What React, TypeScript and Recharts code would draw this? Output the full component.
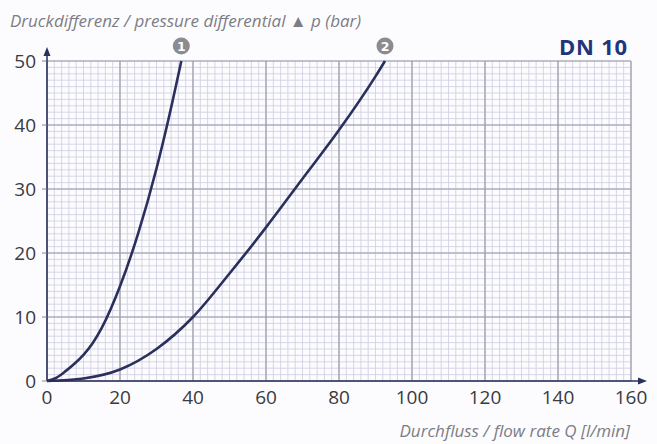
import { LineChart, Line, XAxis, YAxis, CartesianGrid, ReferenceDot } from "recharts"

// curve 1
const flow1 = [0, 2.5, 5, 7.5, 10, 12.5, 15, 20, 25, 30, 33.2, 36.8]
const dp1 = [0, 0.5, 1.5, 2.7, 4.1, 5.9, 8.3, 14.8, 23.1, 33.2, 40.7, 50]

// curve 2
const flow2 = [0, 10, 20, 30, 40, 50, 60, 70, 80, 90, 92.6]
const dp2 = [0, 0.4, 1.8, 5, 10, 16.8, 24, 31.6, 39.2, 47.6, 50]

const xTicks = [0, 20, 40, 60, 80, 100, 120, 140, 160]
const yTicks = [0, 10, 20, 30, 40, 50]
const X_MAX = 160
const Y_MAX = 50
const xMinor = Array.from({ length: 81 }, (_, i) => i * 2)
const yMinor = Array.from({ length: 51 }, (_, i) => i)

const curve1 = flow1.map((q, i) => ({ q, dp: dp1[i] }))
const curve2 = flow2.map((q, i) => ({ q, dp: dp2[i] }))

const NAVY = "#2a2f5c"
const tickStyle = { fill: "#3a3a40", fontSize: 19, fontFamily: "Open Sans" }

const Badge = (label: string) => (props: any) => (
    <g>
        <circle cx={props.cx} cy={props.cy - 15} r={8.5} fill="#8c8c90" />
        <text x={props.cx} y={props.cy - 10.5} textAnchor="middle" fill="#fff"
            fontSize={12.5} fontWeight="bold" fontFamily="DejaVu Sans">{label}</text>
    </g>
)

// minor grid: same linear mapping as the axes, from the plot offset
const minorX = ({ xAxis, offset }: any) =>
    xMinor.map((v) => (typeof xAxis?.scale === "function" ? xAxis.scale(v) : offset.left + (v / X_MAX) * offset.width))
const minorY = ({ yAxis, offset }: any) =>
    yMinor.map((v) => (typeof yAxis?.scale === "function" ? yAxis.scale(v) : offset.top + (1 - v / Y_MAX) * offset.height))

export default function App() {
    return (
        <div style={{ position: "absolute", left: 0, top: 0, width: 657, height: 444, background: "#fcfcfe", fontFamily: "Open Sans" }}>
            <div style={{ position: "absolute", left: 10, top: 9, fontSize: 17, fontStyle: "italic", color: "#7d7d85", whiteSpace: "nowrap" }}>
                Druckdifferenz / pressure differential ▲ p (bar)
            </div>
            <div style={{ position: "absolute", right: 29, top: 31, fontSize: 22, letterSpacing: 0.8, fontWeight: "bold", color: "#22357a" }}>
                DN 10
            </div>
            <div style={{ position: "absolute", right: 27, top: 419, fontSize: 17, fontStyle: "italic", color: "#7d7d85", whiteSpace: "nowrap" }}>
                Durchfluss / flow rate Q [l/min]
            </div>
            <LineChart width={657} height={444} margin={{ top: 61, right: 26, bottom: 33, left: 0 }}>
                <CartesianGrid stroke="#cdcde0" strokeWidth={0.8}
                    verticalCoordinatesGenerator={minorX} horizontalCoordinatesGenerator={minorY} />
                <CartesianGrid stroke="#9a9aa8" strokeWidth={1.2} />
                <XAxis type="number" dataKey="q" domain={[0, X_MAX]} ticks={xTicks} height={30}
                    tick={tickStyle} tickLine={false} tickMargin={4} axisLine={{ stroke: NAVY, strokeWidth: 1.5 }} />
                <YAxis type="number" dataKey="dp" domain={[0, Y_MAX]} ticks={yTicks} width={47}
                    tick={tickStyle} tickSize={5} tickMargin={6} tickLine={{ stroke: "#888" }}
                    axisLine={{ stroke: NAVY, strokeWidth: 1.5 }} />
                <Line data={curve1} dataKey="dp" type="monotone" stroke={NAVY} strokeWidth={2.6} dot={false} isAnimationActive={false} />
                <Line data={curve2} dataKey="dp" type="monotone" stroke={NAVY} strokeWidth={2.6} dot={false} isAnimationActive={false} />
                <ReferenceDot x={36.8} y={50} r={0} ifOverflow="visible" shape={Badge("1")} />
                <ReferenceDot x={92.6} y={50} r={0} ifOverflow="visible" shape={Badge("2")} />
            </LineChart>
            <svg width={657} height={444} style={{ position: "absolute", left: 0, top: 0, pointerEvents: "none" }}>
                <line x1={47} y1={61} x2={47} y2={56} stroke={NAVY} strokeWidth={1.5} />
                <polygon points="47,47 43.5,56 50.5,56" fill={NAVY} />
                <line x1={631} y1={381} x2={638} y2={381} stroke={NAVY} strokeWidth={1.5} />
                <polygon points="647,381 638,377.5 638,384.5" fill={NAVY} />
            </svg>
        </div>
    )
}
